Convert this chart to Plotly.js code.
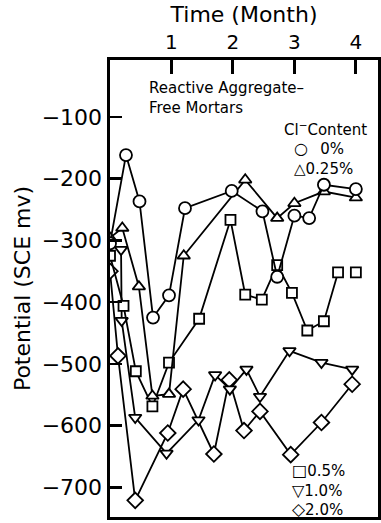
<!DOCTYPE html>
<html>
<head>
<meta charset="utf-8">
<script src="https://cdn.plot.ly/plotly-3.0.1.min.js"></script>
<style>html,body{margin:0;padding:0;background:#fff;}#chart{width:381px;height:523px;}</style>
</head>
<body>
<div id="chart"></div>
<script>
// Time in months, potential in mV (SCE)
const cl0_x   = [0, 0.26, 0.48, 0.70, 0.96, 1.22, 1.98, 2.48, 2.72, 3.00, 3.24, 3.48, 4.00];
const cl0_y   = [-305, -162, -237, -425, -389, -248, -220, -253, -359, -260, -264, -210, -217];
const cl025_x = [0, 0.20, 0.47, 0.69, 0.96, 1.20, 2.20, 2.72, 3.00, 3.48, 4.00];
const cl025_y = [-296, -280, -375, -552, -549, -325, -202, -264, -240, -221, -231];
const cl05_x  = [0, 0.22, 0.42, 0.69, 0.96, 1.45, 1.96, 2.20, 2.47, 2.72, 2.96, 3.21, 3.48, 3.71, 3.85, 4.00];
const cl05_y  = [-325, -406, -512, -569, -498, -427, -267, -388, -396, -340, -385, -446, -431, -352, null, -352];
const cl10_x  = [0.18, 0.19, 0.41, 0.92, 1.44, 1.71, 1.95, 2.22, 2.44, 2.92, 3.44, 3.94];
const cl10_y  = [-315, -430, -587, -645, -591, -518, -541, -509, -553, -479, -498, -509];
const cl20_x  = [0, 0.13, 0.41, 0.94, 1.19, 1.69, 1.94, 2.18, 2.44, 2.94, 3.44, 3.94];
const cl20_y  = [-350, -487, -721, -612, -541, -646, -526, -608, -577, -647, -595, -533];

const xTicks = [1, 2, 3, 4];
const yTicks = [-100, -200, -300, -400, -500, -600, -700];
const legendLabels = ['0%', '0.25%', '0.5%', '1.0%', '2.0%'];

function tr(x, y, symbol, size) {
  return {
    x: x, y: y, type: 'scatter', mode: 'lines+markers', connectgaps: false,
    line: {color: '#000', width: 1.8},
    marker: {symbol: symbol, size: size, color: '#fff', line: {color: '#000', width: 1.8}},
    showlegend: false, hoverinfo: 'skip'
  };
}

const data = [
  tr(cl20_x, cl20_y, 'diamond', 12),
  tr(cl10_x, cl10_y, 'triangle-down', 11),
  tr(cl05_x, cl05_y, 'square', 10),
  tr(cl025_x, cl025_y, 'triangle-up', 11),
  tr(cl0_x, cl0_y, 'circle', 12)
];

const F = 'DejaVu Sans, sans-serif';
function px2x(p) { return (p - 110) / 268; }
function px2y(p) { return (517 - p) / 457; }
function ann(text, xp, yp, size, anchor, align) {
  return {text: text, xref: 'paper', yref: 'paper', x: px2x(xp), y: px2y(yp),
    xanchor: anchor || 'left', yanchor: 'middle', align: align || 'left',
    showarrow: false, borderpad: 0,
    font: {family: F, size: size, color: '#000'}};
}
function g(ch, sz) { return '<span style="font-size:' + sz + 'px">' + ch + '</span>'; }

const layout = {
  width: 381, height: 523,
  margin: {l: 110, r: 3, t: 60, b: 6},
  paper_bgcolor: '#fff', plot_bgcolor: '#fff',
  font: {family: F, color: '#000'},
  xaxis: {
    side: 'top', range: [0, 4.36], tickvals: xTicks, ticks: 'inside', ticklen: 14, tickwidth: 3,
    tickcolor: '#000', showline: true, mirror: true, linewidth: 3, linecolor: '#000',
    showgrid: false, zeroline: false, tickfont: {family: F, size: 20},
    title: {text: 'Time (Month)', font: {family: F, size: 22}, standoff: 2}
  },
  yaxis: {
    range: [-748, -8], tickvals: yTicks, ticks: 'inside', ticklen: 12, tickwidth: 2.5,
    tickcolor: '#000', showline: true, mirror: true, linewidth: 3.5, linecolor: '#000',
    showgrid: false, zeroline: false, tickfont: {family: F, size: 22},
    title: {text: 'Potential (SCE mv)', font: {family: F, size: 22}, standoff: 6}
  },
  annotations: [
    ann('Reactive Aggregate\u2013<br>Free Mortars', 148, 98, 15),
    ann('Cl<sup>\u2212</sup>Content', 368, 129, 15, 'right'),
    ann(g('\u25CB', 16) + '\u2002 ' + legendLabels[0] + '<br>' + g('\u25B3', 15) + legendLabels[1], 293, 158, 15),
    ann(g('\u25A1', 16) + legendLabels[2] + '<br>' + g('\u25BD', 16) + legendLabels[3] + '<br>' + g('\u25C7', 17) + legendLabels[4], 291, 490, 15)
  ]
};

Plotly.newPlot('chart', data, layout, {displayModeBar: false, staticPlot: true});
</script>
</body>
</html>
